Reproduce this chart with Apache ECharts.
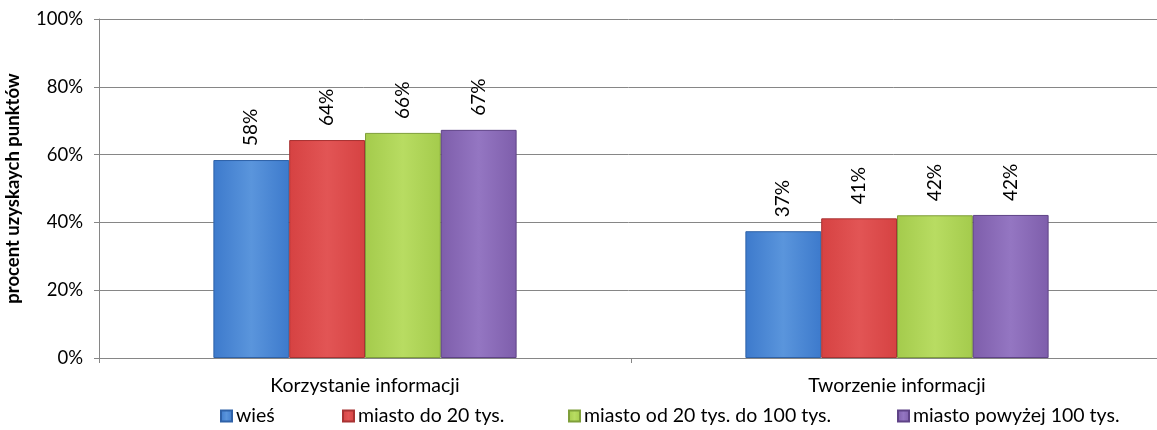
<!DOCTYPE html>
<html><head><meta charset="utf-8">
<script src="https://cdn.jsdelivr.net/npm/echarts@6/dist/echarts.min.js"></script>
<style>html,body{margin:0;padding:0;background:#fff}#c{width:1157px;height:430px}</style>
</head><body><div id="c"></div>
<script>
const categories = ['Korzystanie informacji', 'Tworzenie informacji'];
const seriesNames = ['wieś', 'miasto do 20 tys.', 'miasto od 20 tys. do 100 tys.', 'miasto powyżej 100 tys.'];
const wies = [58.4, 37.4];
const miastoDo20 = [64.3, 41.2];
const miasto20do100 = [66.4, 42.1];
const miastoPow100 = [67.3, 42.2];
const yTicks = [0, 20, 40, 60, 80, 100];

const values = [wies, miastoDo20, miasto20do100, miastoPow100];
const palette = [
  ['#5a95dc', '#3d7acc', '#2f62a8'],
  ['#e25555', '#d64242', '#a83333'],
  ['#b8dc62', '#a4cb4c', '#7f9f3a'],
  ['#9476c2', '#7e5eab', '#5f4387']
];
const F = 'Lato, "Open Sans", sans-serif';

const chart = echarts.init(document.getElementById('c'), null, {renderer: 'canvas'});
const series = values.map((v, i) => ({
  name: seriesNames[i],
  type: 'bar',
  data: v,
  barGap: '0%',
  barCategoryGap: '43%',
  itemStyle: {
    color: new echarts.graphic.LinearGradient(0, 0, 1, 0, [
      {offset: 0, color: palette[i][1]},
      {offset: 0.5, color: palette[i][0]},
      {offset: 1, color: palette[i][1]}
    ]),
    borderColor: palette[i][2],
    borderWidth: 1
  },
  label: {
    show: true, position: 'top', rotate: 90, align: 'left', verticalAlign: 'middle',
    distance: 14, fontFamily: F, fontSize: 19, color: '#000',
    formatter: p => Math.round(p.value) + '%'
  }
}));
const legendLefts = [220, 342, 568, 897];
const legends = seriesNames.map((n, i) => ({
  data: [n], left: legendLefts[i], top: 406, icon: 'rect', itemWidth: 11, itemHeight: 11,
  itemGap: 4, padding: 0, textStyle: {fontFamily: F, fontSize: 19.5, color: '#000', padding: [0,0,0,-1]},
  selectedMode: false
}));
chart.setOption({
  animation: false,
  legend: legends,
  grid: {left: 99, top: 19, bottom: 72, width: 1064, outerBoundsMode: 'none', containLabel: false},
  xAxis: {
    type: 'category', data: categories,
    axisLine: {lineStyle: {color: '#868686', width: 1}},
    axisTick: {show: true, length: 5, lineStyle: {color: '#868686'}},
    axisLabel: {fontFamily: F, fontSize: 19.5, color: '#000', margin: 18}
  },
  yAxis: {
    type: 'value', min: 0, max: 100, interval: 20,
    name: 'procent uzyskaych punktów', nameLocation: 'middle', nameGap: 76,
    nameTextStyle: {fontFamily: F, fontSize: 18.5, fontWeight: 'bold', color: '#000'},
    axisLine: {show: true, lineStyle: {color: '#868686'}},
    axisTick: {show: true, length: 5, lineStyle: {color: '#868686'}},
    splitLine: {lineStyle: {color: '#868686', width: 1}},
    axisLabel: {fontFamily: F, fontSize: 18.5, color: '#000', margin: 16,
      formatter: v => yTicks.includes(v) ? v + '%' : ''}
  },
  series: series
});
</script></body></html>
